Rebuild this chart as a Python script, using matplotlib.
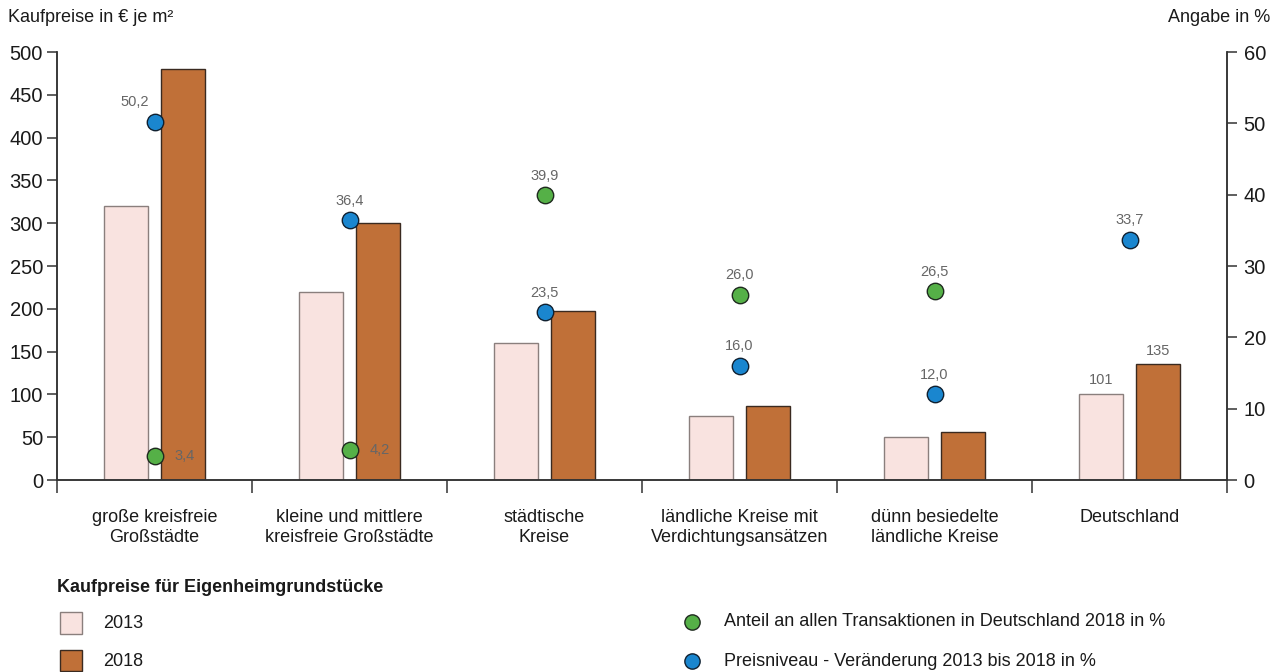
import numpy as np
import matplotlib.pyplot as plt
from matplotlib.patches import Rectangle
from matplotlib.lines import Line2D

plt.rcParams['font.family'] = ['Liberation Sans', 'DejaVu Sans']

categories = ['große kreisfreie\nGroßstädte', 'kleine und mittlere\nkreisfreie Großstädte',
              'städtische\nKreise', 'ländliche Kreise mit\nVerdichtungsansätzen',
              'dünn besiedelte\nländliche Kreise', 'Deutschland']
preis_2013 = [320, 220, 160, 75, 50, 101]
preis_2018 = [480, 300, 198, 87, 56, 135]
anteil = [3.4, 4.2, 39.9, 26.0, 26.5, np.nan]      # Anteil an Transaktionen 2018
veraenderung = [50.2, 36.4, 23.5, 16.0, 12.0, 33.7]  # Preisniveau 2013-2018

c13 = '#f9e3e0'
c18 = '#c07038'
cgreen = '#55b047'
cblue = '#1a86cf'
lblcol = '#666666'
axcol = '#333333'
txtcol = '#1a1a1a'
fs = 13

fig = plt.figure(figsize=(12.79, 6.72), dpi=100)
ax = fig.add_axes([57/1279, 1-480/672, (1227-57)/1279, 428/672])
ax2 = ax.twinx()

x = np.arange(len(categories))
w = 0.225
off = 0.145
ax.bar(x - off, preis_2013, w, color=c13, edgecolor='#8a7f7d', linewidth=1.0)
ax.bar(x + off, preis_2018, w, color=c18, edgecolor='#3a2a20', linewidth=1.0)

ax.set_xlim(-0.5, len(categories) - 0.5)
ax.set_ylim(0, 500)
ax.set_yticks(np.arange(0, 501, 50))
ax2.set_ylim(0, 60)
ax2.set_yticks(np.arange(0, 61, 10))

ax.set_xticks(x)
ax.set_xticklabels(categories, fontsize=fs, color=txtcol, linespacing=1.2)
ax.set_xticks(np.arange(-0.5, len(categories)), minor=True)
ax.tick_params(axis='x', which='major', length=0, pad=21)
ax.tick_params(axis='x', which='minor', length=9, width=1.1, color=axcol)
ax.tick_params(axis='y', length=7, width=1.1, color=axcol, labelsize=14.5, pad=3, labelcolor=txtcol)
ax2.tick_params(axis='y', length=7, width=1.1, color=axcol, labelsize=14.5, pad=5, labelcolor=txtcol)

for a in (ax, ax2):
    a.spines['top'].set_visible(False)
    for s in ('left', 'right', 'bottom'):
        a.spines[s].set_color(axcol)
        a.spines[s].set_linewidth(1.1)

# Punkte auf der Prozentachse
ax2.scatter(x, anteil, s=140, color=cgreen, edgecolor='#1f2a1f', linewidth=1.0, zorder=5)
ax2.scatter(x, veraenderung, s=140, color=cblue, edgecolor='#102030', linewidth=1.0, zorder=5)

for i, v in enumerate(veraenderung):
    dx = -14 if i == 0 else 0
    ax2.annotate(f'{v:.1f}'.replace('.', ','), (x[i], v), textcoords='offset points',
                 xytext=(dx, 14), ha='center', va='center', fontsize=10.5, color=lblcol)
for i, v in enumerate(anteil):
    if np.isnan(v):
        continue
    if v < 10:
        ax2.annotate(f'{v:.1f}'.replace('.', ','), (x[i], v), textcoords='offset points',
                     xytext=(22, 0), ha='center', va='center', fontsize=10.5, color=lblcol)
    else:
        ax2.annotate(f'{v:.1f}'.replace('.', ','), (x[i], v), textcoords='offset points',
                     xytext=(0, 14), ha='center', va='center', fontsize=10.5, color=lblcol)

# Werte über den Deutschland-Balken
i = len(categories) - 1
ax.annotate(str(preis_2013[i]), (x[i] - off, preis_2013[i]), textcoords='offset points',
            xytext=(0, 10), ha='center', va='center', fontsize=10.5, color=lblcol)
ax.annotate(str(preis_2018[i]), (x[i] + off, preis_2018[i]), textcoords='offset points',
            xytext=(0, 10), ha='center', va='center', fontsize=10.5, color=lblcol)

fig.text(8/1279, 1-18/672, 'Kaufpreise in € je m²', fontsize=fs, va='center', ha='left', color=txtcol)
fig.text(1270/1279, 1-18/672, 'Angabe in %', fontsize=fs, va='center', ha='right', color=txtcol)

# Legende
fig.text(57/1279, 1-587/672, 'Kaufpreise für Eigenheimgrundstücke', fontsize=fs,
         fontweight='bold', va='center', ha='left', color=txtcol)
fig.add_artist(Rectangle((60/1279, 1-634/672), 22/1279, 22/672, transform=fig.transFigure,
                         facecolor=c13, edgecolor='#8a7f7d', linewidth=1.0))
fig.add_artist(Rectangle((60/1279, 0.001), 22/1279, 21/672, transform=fig.transFigure,
                         facecolor=c18, edgecolor='#3a2a20', linewidth=1.0))
fig.text(103/1279, 1-623/672, '2013', fontsize=fs, va='center', ha='left', color=txtcol)
fig.text(103/1279, 1-661/672, '2018', fontsize=fs, va='center', ha='left', color=txtcol)

fig.add_artist(Line2D([692/1279], [1-622/672], marker='o', markersize=11, color=cgreen,
                      markeredgecolor='#1f2a1f', markeredgewidth=1.0, transform=fig.transFigure))
fig.add_artist(Line2D([692/1279], [1-661/672], marker='o', markersize=11, color=cblue,
                      markeredgecolor='#102030', markeredgewidth=1.0, transform=fig.transFigure))
fig.text(724/1279, 1-622/672, 'Anteil an allen Transaktionen in Deutschland 2018 in %',
         fontsize=fs, va='center', ha='left', color=txtcol)
fig.text(724/1279, 1-661/672, 'Preisniveau - Veränderung 2013 bis 2018 in %',
         fontsize=fs, va='center', ha='left', color=txtcol)

fig.savefig('out.png', dpi=100, facecolor='white')
